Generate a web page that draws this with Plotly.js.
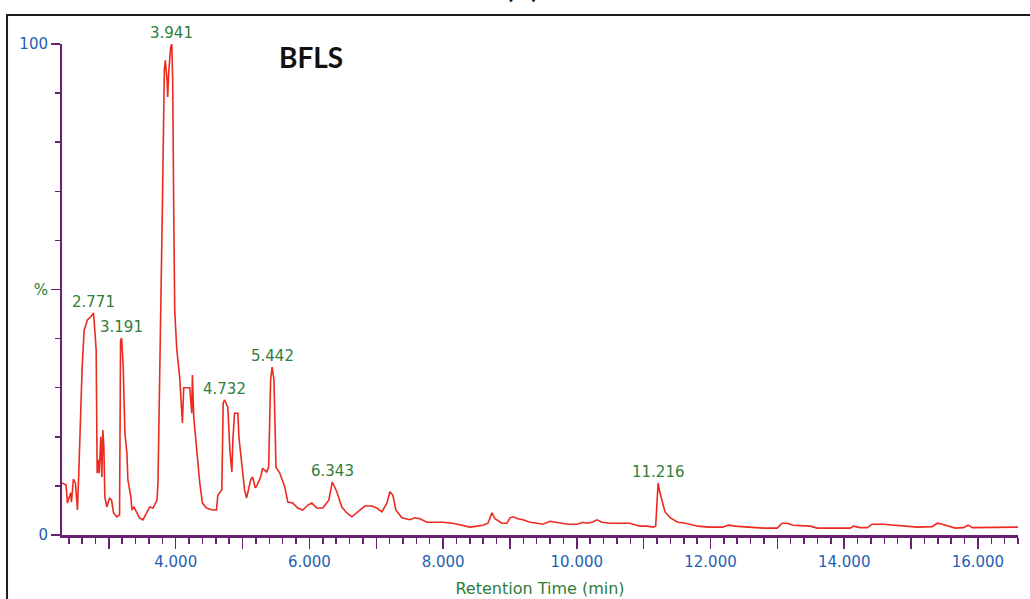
<!DOCTYPE html>
<html>
<head>
<meta charset="utf-8">
<script src="https://cdn.plot.ly/plotly-3.0.1.min.js"></script>
<style>
  html, body { margin: 0; padding: 0; background: #ffffff; }
  #chart { width: 1030px; height: 599px; }
</style>
</head>
<body>
<div id="chart"></div>
<script>
// Total ion chromatogram of the BFLS sample: retention time (min) vs relative intensity (%)
const retentionTime = [
  2.30, 2.36, 2.38, 2.43, 2.44, 2.47, 2.50, 2.52, 2.53, 2.55, 2.58, 2.60, 2.63, 2.68, 2.74, 2.771,
  2.79, 2.81, 2.825, 2.84, 2.855, 2.88, 2.895, 2.91, 2.925, 2.94, 2.97, 3.01, 3.04, 3.07, 3.12, 3.16,
  3.175, 3.191, 3.215, 3.24, 3.27, 3.285, 3.33, 3.345, 3.375, 3.42, 3.46, 3.51, 3.57, 3.61, 3.66, 3.72,
  3.735, 3.78, 3.80, 3.83, 3.845, 3.87, 3.88, 3.895, 3.925, 3.941, 3.955, 3.97, 3.985, 4.015, 4.06, 4.10,
  4.12, 4.16, 4.21, 4.24, 4.25, 4.27, 4.31, 4.36, 4.40, 4.46, 4.55, 4.61, 4.63, 4.69, 4.71, 4.732,
  4.78, 4.81, 4.84, 4.855, 4.88, 4.93, 4.945, 4.99, 5.03, 5.06, 5.12, 5.15, 5.19, 5.22, 5.27, 5.30,
  5.36, 5.39, 5.42, 5.442, 5.47, 5.50, 5.557, 5.632, 5.677, 5.751, 5.826, 5.901, 5.976, 6.036, 6.111, 6.201,
  6.29, 6.343, 6.41, 6.485, 6.56, 6.635, 6.725, 6.829, 6.934, 7.009, 7.084, 7.159, 7.204, 7.249, 7.293, 7.383,
  7.503, 7.578, 7.653, 7.757, 7.847, 7.997, 8.147, 8.296, 8.401, 8.506, 8.596, 8.671, 8.731, 8.776, 8.88, 8.955,
  9.00, 9.045, 9.12, 9.195, 9.299, 9.404, 9.494, 9.599, 9.674, 9.778, 9.868, 10.003, 10.093, 10.153, 10.228, 10.302,
  10.377, 10.497, 10.647, 10.796, 10.841, 10.946, 11.051, 11.141, 11.18, 11.20, 11.216, 11.24, 11.28, 11.32, 11.40, 11.51,
  11.63, 11.75, 11.81, 11.97, 12.18, 12.27, 12.37, 12.57, 12.79, 12.997, 13.072, 13.147, 13.237, 13.491, 13.596, 13.835,
  14.09, 14.135, 14.24, 14.344, 14.419, 14.584, 14.734, 14.943, 15.093, 15.317, 15.392, 15.467, 15.557, 15.662, 15.781, 15.856,
  15.916, 16.081, 16.335, 16.60
];

const relativeIntensity = [
  10.6, 10.2, 6.5, 8.6, 6.7, 11.4, 10.6, 5.7, 5.1, 12.6, 27.5, 34.0, 41.7, 43.8, 44.6, 45.2,
  41.7, 37.7, 12.6, 15.3, 12.6, 20.0, 11.8, 21.4, 18.0, 7.7, 5.7, 7.5, 7.1, 4.5, 3.7, 4.1,
  39.6, 40.1, 34.2, 20.8, 16.7, 11.2, 7.7, 5.1, 5.7, 4.5, 3.5, 3.1, 4.5, 5.7, 5.5, 7.1,
  10.6, 44.4, 66.2, 94.7, 96.7, 92.7, 89.2, 94.1, 99.4, 100.0, 92.3, 66.8, 45.8, 38.0, 32.0, 22.8,
  30.0, 30.0, 30.0, 24.8, 32.6, 24.0, 17.3, 10.6, 6.5, 5.5, 5.1, 5.1, 8.1, 9.2, 26.9, 27.5,
  26.0, 17.3, 12.8, 19.3, 24.8, 24.8, 20.0, 13.8, 9.2, 7.5, 11.2, 11.8, 9.6, 10.2, 11.8, 13.6,
  12.8, 13.8, 31.6, 34.2, 31.6, 13.8, 12.6, 9.8, 6.7, 6.5, 5.5, 5.1, 6.1, 6.5, 5.5, 5.5,
  7.1, 10.8, 8.8, 5.7, 4.5, 3.7, 4.7, 5.9, 5.9, 5.5, 4.7, 6.5, 8.8, 8.1, 5.1, 3.5,
  3.1, 3.5, 3.3, 2.6, 2.6, 2.6, 2.4, 2.0, 1.6, 1.8, 2.0, 2.4, 4.5, 3.3, 2.4, 2.4,
  3.5, 3.7, 3.3, 3.1, 2.6, 2.4, 2.2, 2.8, 2.6, 2.4, 2.2, 2.2, 2.6, 2.4, 2.6, 3.1,
  2.6, 2.4, 2.4, 2.4, 2.2, 1.8, 1.8, 1.6, 1.8, 7.7, 10.6, 8.8, 6.5, 4.7, 3.5, 2.6,
  2.4, 2.0, 1.8, 1.6, 1.6, 2.0, 1.8, 1.6, 1.4, 1.4, 2.4, 2.4, 2.0, 1.8, 1.4, 1.4,
  1.4, 1.8, 1.5, 1.5, 2.2, 2.2, 2.0, 1.8, 1.6, 1.7, 2.4, 2.2, 1.8, 1.4, 1.5, 2.0,
  1.5, 1.5, 1.5, 1.6
];

// Retention times of the annotated peaks
const peakTimes = [2.771, 3.191, 3.941, 4.732, 5.442, 6.343, 11.216];

// Axis tick labels
const xTickValues = [3, 4, 5, 6, 7, 8, 9, 10, 11, 12, 13, 14, 15, 16];
const xTickText = ['', '4.000', '', '6.000', '', '8.000', '', '10.000', '', '12.000', '', '14.000', '', '16.000'];
const yTickValues = [0, 50, 100];
const yTickText = ['0', '<span style="color:#2f7d3b">%</span>', '100'];

const sampleName = 'BFLS';
const panelLabel = '(A)';
const xTitle = 'Retention Time (min)';

const PURPLE = '#6a2270';
const BLUE = '#1f5fb4';
const GREEN = '#2f7d3b';
const RED = '#ec2a20';
const LABEL_FONT = 'DejaVu Sans, Verdana, sans-serif';

function intensityAt(t) {
  const i = retentionTime.indexOf(t);
  return relativeIntensity[i];
}

const trace = {
  type: 'scatter',
  mode: 'lines',
  x: retentionTime,
  y: relativeIntensity,
  line: { color: RED, width: 1.6, shape: 'linear' },
  hoverinfo: 'skip',
  showlegend: false
};

const peakAnnotations = peakTimes.map(t => ({
  x: t,
  y: intensityAt(t),
  xref: 'x',
  yref: 'y',
  text: t.toFixed(3),
  showarrow: false,
  xanchor: 'center',
  yanchor: 'bottom',
  yshift: 0,
  font: { family: LABEL_FONT, size: 15, color: GREEN }
}));

const layout = {
  width: 1030,
  height: 599,
  margin: { l: 62, r: 12, t: 44, b: 64 },
  paper_bgcolor: '#ffffff',
  plot_bgcolor: '#ffffff',
  showlegend: false,
  xaxis: {
    range: [2.299, 16.60],
    showline: true,
    linecolor: PURPLE,
    linewidth: 3,
    showgrid: false,
    zeroline: false,
    ticks: 'outside',
    ticklen: 11,
    tickwidth: 1.5,
    tickcolor: PURPLE,
    tickmode: 'array',
    tickvals: xTickValues,
    ticktext: xTickText,
    tickfont: { family: LABEL_FONT, size: 15, color: BLUE },
    minor: { tickmode: 'linear', tick0: 0, dtick: 0.2, ticks: 'outside', ticklen: 6, tickwidth: 1.5, tickcolor: PURPLE, showgrid: false },
    title: { text: xTitle, font: { family: LABEL_FONT, size: 16, color: GREEN }, standoff: 13 }
  },
  yaxis: {
    range: [0, 100],
    showline: true,
    linecolor: PURPLE,
    linewidth: 2,
    showgrid: false,
    zeroline: false,
    ticks: 'outside',
    ticklen: 9,
    tickwidth: 1.5,
    tickcolor: PURPLE,
    tickmode: 'array',
    tickvals: yTickValues,
    ticktext: yTickText,
    tickfont: { family: LABEL_FONT, size: 15, color: BLUE },
    minor: { tickmode: 'linear', tick0: 0, dtick: 10, ticks: 'outside', ticklen: 5, tickwidth: 1.5, tickcolor: PURPLE, showgrid: false }
  },
  shapes: [
    {
      type: 'rect',
      xref: 'paper', yref: 'paper',
      x0: -0.0575, x1: 1.05, y0: -0.3, y1: 1.059,
      line: { color: '#1c1c1c', width: 2 },
      fillcolor: 'rgba(0,0,0,0)',
      layer: 'below'
    }
  ],
  annotations: peakAnnotations.concat([
    {
      xref: 'paper', yref: 'paper',
      x: 0.2605, y: 0.9735,
      text: '<b>' + sampleName + '</b>',
      showarrow: false,
      xanchor: 'center', yanchor: 'middle',
      font: { family: 'Lato, sans-serif', size: 28, color: '#111111' }
    },
    {
      // panel letter sits at the very top edge, mostly above the page
      xref: 'paper', yref: 'paper',
      x: 0.481, y: 1.0774,
      text: '<b>' + panelLabel + '</b>',
      showarrow: false,
      xanchor: 'center', yanchor: 'bottom',
      font: { family: 'Lato, sans-serif', size: 26, color: '#111111' }
    }
  ])
};

Plotly.newPlot('chart', [trace], layout, { staticPlot: true, displayModeBar: false });
</script>
</body>
</html>
